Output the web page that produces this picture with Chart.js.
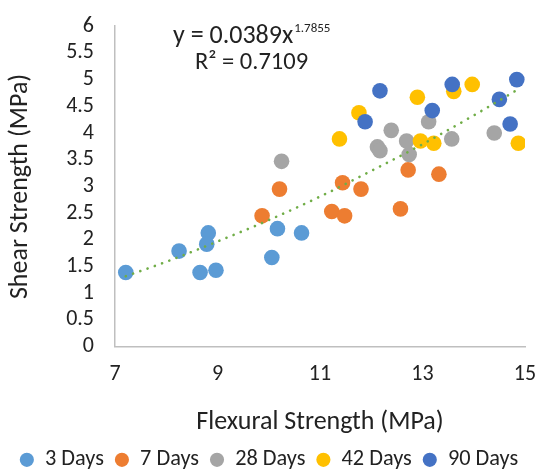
<!DOCTYPE html>
<html>
<head>
<meta charset="utf-8">
<script src="https://cdn.jsdelivr.net/npm/chart.js@4"></script>
<style>
  body { margin: 0; background: #fff; }
  #wrap { width: 538px; height: 469px; }
</style>
</head>
<body>
<div id="wrap"><canvas id="myChart" width="538" height="469"></canvas></div>
<script>
// values
const seriesNames = ['3 Days', '7 Days', '28 Days', '42 Days', '90 Days'];

const flex3 = [7.21, 8.25, 8.82, 8.79, 8.66, 8.97, 10.06, 10.17, 10.64];
const shear3 = [1.39, 1.79, 2.13, 1.92, 1.39, 1.43, 1.67, 2.21, 2.13];

const flex7 = [9.87, 10.21, 11.44, 11.80, 11.23, 11.48, 12.57, 12.72, 13.32];
const shear7 = [2.45, 2.95, 3.07, 2.95, 2.53, 2.45, 2.58, 3.31, 3.23];

const flex28 = [10.25, 12.39, 12.12, 12.17, 12.69, 12.74, 13.12, 13.57, 14.40];
const shear28 = [3.47, 4.05, 3.74, 3.67, 3.85, 3.60, 4.21, 3.89, 4.00];

const flex42 = [11.38, 11.76, 12.90, 13.61, 13.97, 12.96, 13.22, 14.87];
const shear42 = [3.89, 4.38, 4.67, 4.78, 4.91, 3.85, 3.81, 3.81];

const flex90 = [12.17, 11.88, 13.19, 13.58, 14.84, 14.50, 14.71];
const shear90 = [4.79, 4.21, 4.42, 4.91, 5.00, 4.63, 4.17];

// power trendline, points
const trendX = [7.21, 8, 9, 10, 11, 12, 13, 14, 14.87];
const trendY = [1.32, 1.59, 1.97, 2.37, 2.81, 3.29, 3.79, 4.33, 4.82];

const xTicks = [7, 9, 11, 13, 15];
const yTicks = [0, 0.5, 1, 1.5, 2, 2.5, 3, 3.5, 4, 4.5, 5, 5.5, 6];

const COLORS = ['#5B9BD5', '#ED7D31', '#A5A5A5', '#FFC000', '#4472C4'];
const TREND_COLOR = '#70AD47';
const FONT = "Carlito, 'Open Sans', sans-serif";
const TEXT = '#222222';

const pairs = (xs, ys) => xs.map((x, i) => ({x: x, y: ys[i]}));
const allX = [flex3, flex7, flex28, flex42, flex90];
const allY = [shear3, shear7, shear28, shear42, shear90];

const datasets = seriesNames.map((name, i) => ({
  label: name,
  data: pairs(allX[i], allY[i]),
  backgroundColor: COLORS[i],
  borderColor: COLORS[i],
  borderWidth: 0,
  pointRadius: 7.8,
  pointHoverRadius: 7.8,
  order: 5 - i
}));

datasets.push({
  label: 'trend',
  data: pairs(trendX, trendY),
  showLine: true,
  borderColor: TREND_COLOR,
  borderWidth: 2.6,
  borderDash: [0.1, 7.6],
  borderCapStyle: 'round',
  cubicInterpolationMode: 'monotone',
  pointRadius: 0,
  fill: false,
  order: 0
});

// equation text of the trendline
const equationLabel = {
  id: 'equationLabel',
  afterDraw(chart) {
    const ctx = chart.ctx;
    ctx.save();
    ctx.fillStyle = TEXT;
    ctx.textBaseline = 'middle';
    ctx.textAlign = 'left';
    ctx.font = '26px ' + FONT;
    const main = 'y = 0.0389x';
    ctx.fillText(main, 173, 36);
    const w = ctx.measureText(main).width;
    ctx.font = '13px ' + FONT;
    ctx.fillText('1.7855', 173 + w + 1, 29);
    ctx.font = '24.5px ' + FONT;
    ctx.fillText('R\u00B2 = 0.7109', 195, 63);
    ctx.restore();
  }
};

const config = {
  type: 'scatter',
  data: { datasets: datasets },
  options: {
    responsive: false,
    animation: false,
    layout: { padding: { left: 0, right: 0, top: 5.5, bottom: -12 } },
    plugins: {
      tooltip: { enabled: false },
      legend: {
        position: 'bottom',
        labels: {
          usePointStyle: true,
          pointStyle: 'circle',
          boxWidth: 14,
          boxHeight: 10,
          padding: 11,
          color: TEXT,
          font: { family: FONT, size: 22.3 },
          filter: item => item.text !== 'trend',
          sort: (a, b) => a.datasetIndex - b.datasetIndex
        }
      }
    },
    scales: {
      x: {
        type: 'linear',
        min: 7,
        max: 15,
        afterBuildTicks: s => { s.ticks = xTicks.map(v => ({value: v})); },
        afterFit: s => { s.height = 91; s.paddingRight = 13; },
        grid: { display: false },
        border: { display: true, color: '#BFBFBF', width: 1.5 },
        ticks: { padding: 7, autoSkip: false, maxRotation: 0, color: TEXT, font: { family: FONT, size: 22 } },
        title: {
          display: true,
          text: 'Flexural Strength (MPa)',
          color: TEXT,
          font: { family: FONT, size: 26 },
          padding: { top: 0, bottom: 0 }
        }
      },
      y: {
        min: 0,
        max: 6,
        afterBuildTicks: s => { s.ticks = yTicks.map(v => ({value: v})); },
        afterFit: s => { s.width = 115; },
        grid: { display: false },
        border: { display: true, color: '#BFBFBF', width: 1.5 },
        ticks: { padding: 13, autoSkip: false, color: TEXT, font: { family: FONT, size: 22 },
                 callback: v => String(v) },
        title: {
          display: true,
          text: 'Shear Strength (MPa)',
          color: TEXT,
          font: { family: FONT, size: 26 },
          padding: { top: 5, bottom: 0 }
        }
      }
    }
  },
  plugins: [equationLabel]
};

const myChart = new Chart(document.getElementById('myChart'), config);
</script>
</body>
</html>
